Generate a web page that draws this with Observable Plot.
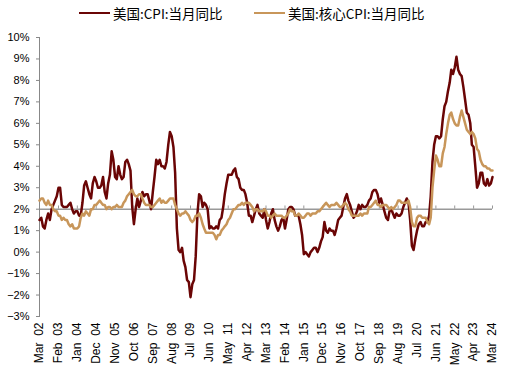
<!DOCTYPE html>
<html><head><meta charset="utf-8">
<script src="https://cdn.jsdelivr.net/npm/d3@7"></script>
<script src="https://cdn.jsdelivr.net/npm/@observablehq/plot@0.6"></script>
<style>
body{margin:0;background:#fff;font-family:"Liberation Sans",Arial,sans-serif;}
#legend{height:26px;position:relative;font-family:"Noto Sans CJK SC";font-size:13.5px;color:#000}
.item{position:absolute;top:3px;display:flex;align-items:center;white-space:nowrap}
.sw{width:31px;height:2px;margin-right:3px}
</style></head><body>
<div id="legend"></div><div id="chart"></div>
<script>
const seriesNames = ["美国:CPI:当月同比", "美国:核心CPI:当月同比"];
const colors = ["#6A0505", "#C8965A"];
const startYear = 2002, startMonth = 3;
const cpi = [
 1.5,1.6,1.2,1.1,1.5,1.8,1.5,2.0,2.2,2.4,
 2.6,3.0,3.0,2.2,2.1,2.1,2.1,2.2,2.3,2.0,1.8,1.9,
 1.9,1.7,1.7,2.3,3.1,3.3,3.0,2.7,2.5,3.2,3.5,3.3,
 3.0,3.0,3.1,3.5,2.8,2.5,3.2,3.6,4.7,4.3,3.5,3.4,
 4.0,3.6,3.4,3.5,4.2,4.3,4.1,3.8,2.1,1.3,2.0,2.5,
 2.1,2.4,2.8,2.6,2.7,2.7,2.4,2.0,2.8,3.5,4.3,4.1,
 4.3,4.0,4.0,3.9,4.2,5.0,5.6,5.4,4.9,3.7,1.1,0.1,
 0.0,0.2,-0.4,-0.7,-1.3,-1.4,-2.1,-1.5,-1.3,-0.2,1.8,2.7,
 2.6,2.1,2.3,2.2,2.0,1.1,1.2,1.1,1.1,1.2,1.1,1.5,
 1.6,2.1,2.7,3.2,3.6,3.6,3.6,3.8,3.9,3.5,3.4,3.0,
 2.9,2.9,2.7,2.3,1.7,1.7,1.4,1.7,2.0,2.2,1.8,1.7,
 1.6,2.0,1.5,1.1,1.4,1.8,2.0,1.5,1.2,1.0,1.2,1.5,
 1.6,1.1,1.5,2.0,2.1,2.1,2.0,1.7,1.7,1.7,1.3,0.8,
 -0.1,0.0,-0.1,-0.2,0.0,0.1,0.2,0.2,0.0,0.2,0.5,0.7,
 1.4,1.0,0.9,1.1,1.0,1.0,0.8,1.1,1.5,1.6,1.7,2.1,
 2.5,2.7,2.4,2.2,1.9,1.6,1.7,1.9,2.2,2.0,2.2,2.1,
 2.1,2.2,2.4,2.5,2.8,2.9,2.9,2.7,2.3,2.5,2.2,1.9,
 1.6,1.5,1.9,2.0,1.8,1.6,1.8,1.7,1.7,1.8,2.1,2.3,
 2.5,2.3,1.5,0.3,0.1,0.6,1.0,1.3,1.4,1.2,1.2,1.4,
 1.4,1.7,2.6,4.2,5.0,5.4,5.4,5.3,5.4,6.2,6.8,7.0,
 7.5,7.9,8.5,8.3,8.6,9.1,8.5,8.3,8.2,7.7,7.1,6.5,
 6.4,6.0,5.0,4.9,4.0,3.0,3.2,3.7,3.7,3.2,3.1,3.4,
 3.1,3.2,3.5
];
const core = [
 2.4,2.5,2.5,2.3,2.2,2.4,2.2,2.2,2.0,1.9,
 1.9,1.7,1.7,1.5,1.6,1.5,1.5,1.3,1.2,1.3,1.1,1.1,
 1.1,1.2,1.6,1.8,1.7,1.9,1.8,1.7,2.0,2.0,2.2,2.2,
 2.3,2.4,2.3,2.2,2.2,2.0,2.1,2.1,2.0,2.1,2.1,2.2,
 2.1,2.1,2.1,2.3,2.4,2.6,2.7,2.8,2.9,2.7,2.6,2.6,
 2.7,2.7,2.5,2.3,2.2,2.2,2.2,2.1,2.1,2.2,2.3,2.4,
 2.5,2.3,2.4,2.3,2.3,2.4,2.5,2.5,2.5,2.2,2.0,1.8,
 1.7,1.8,1.8,1.9,1.8,1.7,1.5,1.4,1.5,1.7,1.7,1.8,
 1.6,1.3,1.1,0.9,0.9,0.9,0.9,0.9,0.8,0.6,0.8,0.8,
 1.0,1.1,1.2,1.3,1.5,1.6,1.8,2.0,2.0,2.1,2.2,2.2,
 2.3,2.2,2.3,2.3,2.3,2.2,2.1,1.9,2.0,2.0,1.9,1.9,
 1.9,2.0,1.9,1.7,1.7,1.6,1.7,1.8,1.7,1.7,1.7,1.7,
 1.6,1.6,1.7,1.8,2.0,1.9,1.9,1.7,1.7,1.8,1.7,1.6,
 1.6,1.7,1.8,1.8,1.7,1.8,1.8,1.8,1.9,1.9,2.0,2.1,
 2.2,2.3,2.2,2.1,2.2,2.2,2.2,2.3,2.2,2.1,2.1,2.2,
 2.3,2.2,2.0,1.9,1.7,1.7,1.7,1.7,1.7,1.8,1.7,1.8,
 1.8,1.8,2.1,2.1,2.2,2.3,2.4,2.2,2.2,2.1,2.2,2.2,
 2.2,2.1,2.0,2.1,2.0,2.1,2.2,2.4,2.4,2.3,2.3,2.3,
 2.3,2.4,2.1,1.4,1.2,1.2,1.6,1.7,1.7,1.6,1.6,1.6,
 1.4,1.3,1.6,3.0,3.8,4.5,4.3,4.0,4.0,4.6,4.9,5.5,
 6.0,6.4,6.5,6.2,6.0,5.9,5.9,6.3,6.6,6.3,6.0,5.7,
 5.6,5.5,5.6,5.5,5.3,4.8,4.7,4.3,4.1,4.0,4.0,3.9,
 3.9,3.8,3.8
];
const tickLabels = ["Mar 02","Feb 03","Jan 04","Dec 04","Nov 05","Oct 06","Sep 07","Aug 08","Jul 09","Jun 10","May 11","Apr 12","Mar 13","Feb 14","Jan 15","Dec 15","Nov 16","Oct 17","Sep 18","Aug 19","Jul 20","Jun 21","May 22","Apr 23","Mar 24"];
const yTicks = [-3,-2,-1,0,1,2,3,4,5,6,7,8,9,10];
const refLine = 2;

// legend
const lg = document.getElementById("legend");
const legendX = [79, 254];
seriesNames.forEach((n, i) => {
  const it = document.createElement("div");
  it.className = "item";
  it.style.left = legendX[i] + "px";
  it.innerHTML = `<span class="sw" style="background:${colors[i]}"></span><span>${n}</span>`;
  lg.appendChild(it);
});

const months = cpi.map((_, i) => new Date(startYear, startMonth - 1 + i, 1));
const rows = [];
months.forEach((m, i) => {
  rows.push({date: m, v: cpi[i], s: seriesNames[0]});
  rows.push({date: m, v: core[i], s: seriesNames[1]});
});
const parse = d3.timeParse("%b %y");
const tickDates = tickLabels.map(parse);
const fmtY = d => (d < 0 ? "\u2212" + (-d) : d) + "%";
const fmtX = d => d3.timeFormat("%b")(d) + "  " + d3.timeFormat("%y")(d);

const chart = Plot.plot({
  width: 519, height: 348,
  marginLeft: 39, marginRight: 27, marginTop: 11, marginBottom: 58,
  style: {fontFamily: "Liberation Sans, Arial, sans-serif", fontSize: "11px", color: "#000", background: "#fff"},
  x: {type: "time", domain: [months[0], months[months.length - 1]]},
  y: {domain: [-3, 10]},
  marks: [
    Plot.ruleY([refLine], {stroke: "#999", strokeWidth: 1.5}),
    Plot.ruleX(tickDates, {x: d => d, y1: refLine, y2: refLine + 0.15, stroke: "#999"}),
    Plot.frame({anchor: "left", stroke: "#888"}),
    Plot.axisY({ticks: yTicks, tickFormat: fmtY, tickSize: 3, tickPadding: 7, stroke: "#888", label: null}),
    Plot.axisX({ticks: tickDates, tickFormat: fmtX, tickRotate: -90, tickSize: 0, tickPadding: 6, fontSize: 12, label: null}),
    Plot.line(rows.filter(r => r.s === seriesNames[0]), {x: "date", y: "v", stroke: colors[0], strokeWidth: 2.5}),
    Plot.line(rows.filter(r => r.s === seriesNames[1]), {x: "date", y: "v", stroke: colors[1], strokeWidth: 2.5})
  ]
});
document.getElementById("chart").appendChild(chart);
</script>
</body></html>
